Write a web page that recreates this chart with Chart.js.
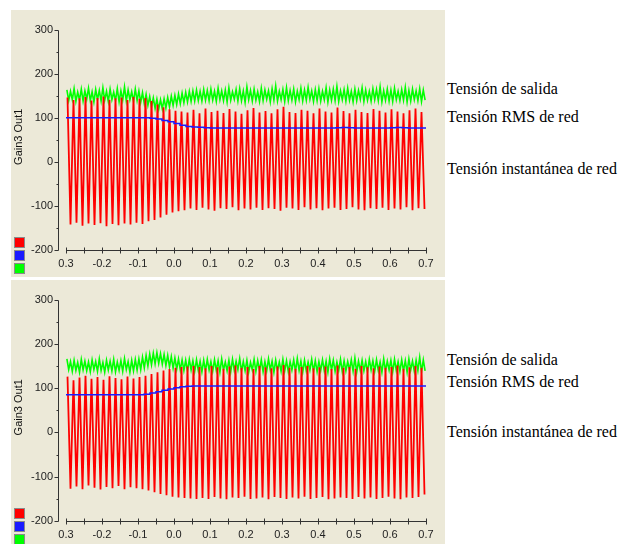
<!DOCTYPE html>
<html>
<head>
<meta charset="utf-8">
<script src="https://cdn.jsdelivr.net/npm/chart.js@4.4.0/dist/chart.umd.min.js"></script>
<style>
  html, body { margin: 0; padding: 0; background: #ffffff; }
  body { width: 624px; height: 544px; position: relative; overflow: hidden; }
  .panel { position: absolute; left: 11px; width: 434px; background: #ECE9D8; }
  .panel canvas { display: block; }
  .lbl { position: absolute; left: 447px; font-family: "Liberation Serif", "Times New Roman", serif;
         font-size: 16px; line-height: 16px; color: #000; white-space: nowrap; }
</style>
</head>
<body>
<div class="panel" style="top:10px;height:267px;"><canvas id="c1" width="434" height="267"></canvas></div>
<div class="panel" style="top:280px;height:264px;"><canvas id="c2" width="434" height="264"></canvas></div>

<div class="lbl" style="top:81px;">Tensión de salida</div>
<div class="lbl" style="top:109px;">Tensión RMS de red</div>
<div class="lbl" style="top:161px;">Tensión instantánea de red</div>
<div class="lbl" style="top:352px;">Tensión de salida</div>
<div class="lbl" style="top:374px;">Tensión RMS de red</div>
<div class="lbl" style="top:424px;">Tensión instantánea de red</div>

<script>
// ---------- axis setup ----------
const T_START = -0.3, T_END = 0.7;
const Y_MIN = -200, Y_MAX = 300;
const yTickLabels = ["300", "200", "100", "0", "-100", "-200"];
const xTickLabels = ["0.3", "-0.2", "-0.1", "0.0", "0.1", "0.2", "0.3", "0.4", "0.5", "0.6", "0.7"];
const yAxisTitle = "Gain3 Out1";
const GRID_CYCLES = 60;     // mains cycles in the window (60 Hz)
const RIPPLE_CYCLES = 100;  // output ripple cycles drawn

// ---------- top panel ----------
// instantaneous grid voltage: positive / negative peak of each cycle
const topRedPos = [146,140,144,147,139,145,148,141,144,146,140,147,143,145,
  138,130,124,119,116,114,
  112,118,110,121,113,116,111,120,114,109,117,122,112,115,110,119,125,113,111,118,
  116,110,121,114,112,123,115,110,118,113,111,120,116,112,119,114,110,117,121,113];
const topRedNeg = [-142,-138,-145,-140,-143,-139,-146,-141,-144,-140,-142,-138,-141,-135,
  -132,-126,-120,-115,-112,-110,
  -106,-109,-104,-108,-111,-105,-107,-103,-110,-106,-108,-104,-109,-105,-107,-111,-104,-106,-109,-103,
  -108,-105,-110,-106,-104,-109,-107,-103,-108,-110,-105,-107,-104,-109,-106,-108,-103,-110,-105,-107];
// RMS grid voltage, one value per cycle boundary
const topBlue = [100,100,100,100,100,100,100,100,100,100,100,100,100,100,
  99,97,94,91,87,83,80,79,78.5,77.5,
  77,77,77,77,77,77,77,77,77,77,77,77,77,77,77,77,77,77,77,
  77,77,77.5,78,77.5,77,77,77,77,77,77,77.5,78,77.5,77,77,77,77];
// output voltage ripple: high / low value of each ripple cycle
const topGreenHi = [163,160,166,158,165,161,167,159,164,162,168,160,165,158,166,161,170,163,159,165,
  161,157,153,148,145,142,141,143,146,149,
  151,154,156,158,160,161,163,160,164,162,
  165,160,167,161,163,168,159,164,166,161,170,162,165,159,167,163,161,166,172,160,
  164,168,162,165,160,167,163,169,161,164,166,160,168,163,165,171,161,164,167,160,
  165,162,168,163,160,166,164,170,161,165,163,167,160,164,169,162,165,161,166,163];
const topGreenLo = [139,141,137,140,138,142,139,136,141,138,140,137,141,139,136,140,138,141,137,139,
  135,132,128,124,121,119,120,122,125,128,
  130,132,134,136,137,138,139,138,140,139,
  140,137,141,139,136,140,142,138,139,135,141,138,140,137,139,142,136,140,138,141,
  137,139,140,136,141,138,140,142,137,139,138,141,136,140,139,137,141,138,140,136,
  139,142,137,140,138,141,139,136,140,138,137,141,139,140,136,138,141,139,137,140];

// ---------- bottom panel ----------
const botRedPos = [126,118,124,128,121,125,119,127,123,120,126,122,
  125,128,132,136,140,143,146,148,149,150,
  148,145,150,147,144,149,151,146,148,143,150,147,145,149,152,146,144,148,150,145,
  147,149,143,151,146,148,144,150,147,145,149,146,148,151,144,147,150,146];
const botRedNeg = [-127,-122,-128,-120,-125,-129,-123,-126,-121,-128,-124,-126,
  -128,-131,-135,-139,-142,-145,-147,-148,-149,-150,
  -148,-150,-146,-149,-151,-147,-148,-145,-150,-149,-147,-151,-146,-148,-150,-147,-149,-145,-150,-148,
  -146,-151,-149,-147,-148,-150,-146,-149,-147,-150,-148,-145,-149,-151,-147,-148,-146,-140];
const botBlue = [85,85,85,85,85,85,85,85,85,85,85,85,85,
  86,89,92,95,98,101,103,104.5,
  105,105,105,105,105,105,105,105,105,105,105,105,105,105,105,105,105,105,105,105,
  105,105,105,105,105,105,105,105,105,105,105,105,105,105,105,105,105,105,105,105];
const botGreenHi = [166,160,163,158,165,161,159,164,160,166,158,163,161,165,159,162,167,160,163,165,
  166,170,174,177,179,180,178,176,174,171,
  168,166,164,163,165,162,164,161,163,165,
  160,164,162,166,159,163,165,161,167,160,163,158,165,162,164,160,166,161,163,159,
  165,162,160,164,167,161,163,159,165,162,160,164,161,166,163,159,165,162,160,164,
  168,161,163,160,165,162,164,159,166,161,163,165,160,164,162,166,161,163,170,164];
const botGreenLo = [142,138,140,136,141,139,137,142,138,140,136,141,139,137,140,138,142,136,139,141,
  142,146,150,153,155,156,154,151,148,145,
  143,141,140,139,141,138,140,137,139,141,
  138,140,136,141,139,137,140,142,138,139,136,141,138,140,137,139,141,136,140,138,
  139,137,141,138,140,136,139,141,138,137,140,139,136,141,138,140,137,139,141,138,
  136,140,139,137,141,138,140,136,139,141,137,140,138,139,136,141,138,140,137,139];

// ---------- helpers building point lists from the arrays ----------
function peaksToPoints(pos, neg, cycles) {
  const span = T_END - T_START, pts = [];
  for (let i = 0; i < pos.length; i++) {
    pts.push({ x: T_START + span * (i + 0.25) / cycles, y: pos[i] });
    pts.push({ x: T_START + span * (i + 0.75) / cycles, y: neg[i] });
  }
  return pts;
}
function seriesToPoints(vals, cycles) {
  const span = T_END - T_START;
  return vals.map((v, i) => ({ x: T_START + span * i / cycles, y: v }));
}

Chart.defaults.font.family = '"Liberation Sans", Arial, sans-serif';
Chart.defaults.font.size = 11;
Chart.defaults.color = '#222';

const axesPlugin = {
  id: 'scopeAxes',
  afterDraw(chart) {
    const { ctx, chartArea } = chart;
    const x = chart.scales.x, y = chart.scales.y;
    ctx.save();
    ctx.strokeStyle = '#333';
    ctx.lineWidth = 1;
    ctx.beginPath();
    // y axis (offset left of plot area)
    const ax = Math.round(chartArea.left - 8) + 0.5;
    ctx.moveTo(ax, Math.round(y.getPixelForValue(Y_MAX)) + 0.5);
    ctx.lineTo(ax, Math.round(y.getPixelForValue(Y_MIN)) + 0.5);
    for (let v = Y_MIN; v <= Y_MAX; v += 50) {
      const py = Math.round(y.getPixelForValue(v)) + 0.5;
      const len = (v % 100 === 0) ? 4 : 2;
      ctx.moveTo(ax - len, py); ctx.lineTo(ax, py);
    }
    // x axis
    const ay = Math.round(y.getPixelForValue(Y_MIN)) + 0.5;
    ctx.moveTo(Math.round(x.getPixelForValue(T_START)), ay);
    ctx.lineTo(Math.round(x.getPixelForValue(T_END)) + 1, ay);
    for (let k = 0; k <= 20; k++) {
      const px = Math.round(x.getPixelForValue(T_START + k * 0.05)) + 0.5;
      ctx.moveTo(px, ay - 3); ctx.lineTo(px, ay + 3);
    }
    ctx.stroke();

    // y axis title
    ctx.fillStyle = '#111';
    ctx.font = '11px "Liberation Sans", Arial, sans-serif';
    ctx.textAlign = 'center';
    ctx.textBaseline = 'middle';
    ctx.translate(8, (chartArea.top + chartArea.bottom) / 2 - 3);
    ctx.rotate(-Math.PI / 2);
    ctx.fillText(yAxisTitle, 0, 0);
    ctx.setTransform(1, 0, 0, 1, 0, 0);

    // colour keys (red, blue, green) bottom-left
    const order = ['red', 'blue', 'green'];
    order.forEach((key, k) => {
      const ds = chart.data.datasets.find(d => d.key === key);
      const top = Math.round(chartArea.bottom - 13 + k * 13);
      ctx.fillStyle = ds.borderColor;
      ctx.fillRect(3, top, 11, 11);
      ctx.strokeStyle = '#8a8a8a';
      ctx.strokeRect(3.5, top + 0.5, 10, 10);
    });
    ctx.restore();
  }
};

function makeChart(id, redPos, redNeg, blue, gHi, gLo, plotTop, plotBottomGap) {
  return new Chart(document.getElementById(id), {
    type: 'line',
    data: {
      datasets: [
        { key: 'blue', data: seriesToPoints(blue, GRID_CYCLES), borderColor: '#1a1aff',
          borderWidth: 1.5, stepped: true, order: 0 },
        { key: 'red', data: peaksToPoints(redPos, redNeg, GRID_CYCLES), borderColor: '#ff0000',
          borderWidth: 1.8, order: 1 },
        { key: 'green', data: peaksToPoints(gHi, gLo, RIPPLE_CYCLES), borderColor: '#00ff00',
          borderWidth: 1.6, order: 2 }
      ]
    },
    options: {
      responsive: false,
      animation: false,
      devicePixelRatio: 1,
      events: [],
      layout: { padding: { left: 0, right: 19, top: plotTop, bottom: 0 } },
      elements: { point: { radius: 0 }, line: { tension: 0, fill: false } },
      plugins: { legend: { display: false }, tooltip: { enabled: false } },
      scales: {
        x: {
          type: 'linear', min: T_START, max: T_END,
          grid: { display: false, drawTicks: false }, border: { display: false },
          ticks: {
            stepSize: 0.1, autoSkip: false, maxRotation: 0, padding: 7,
            callback: (v, i) => xTickLabels[i]
          },
          afterFit: s => { s.height = plotBottomGap; }
        },
        y: {
          min: Y_MIN, max: Y_MAX,
          grid: { display: false, drawTicks: false }, border: { display: false },
          ticks: { stepSize: 100, padding: 13, callback: (v, i, t) => yTickLabels[t.length - 1 - i] },
          afterFit: s => { s.width = 55; }
        }
      }
    },
    plugins: [axesPlugin]
  });
}

makeChart('c1', topRedPos, topRedNeg, topBlue, topGreenHi, topGreenLo, 10, 27);
makeChart('c2', botRedPos, botRedNeg, botBlue, botGreenHi, botGreenLo, 11, 23);
</script>
</body>
</html>
